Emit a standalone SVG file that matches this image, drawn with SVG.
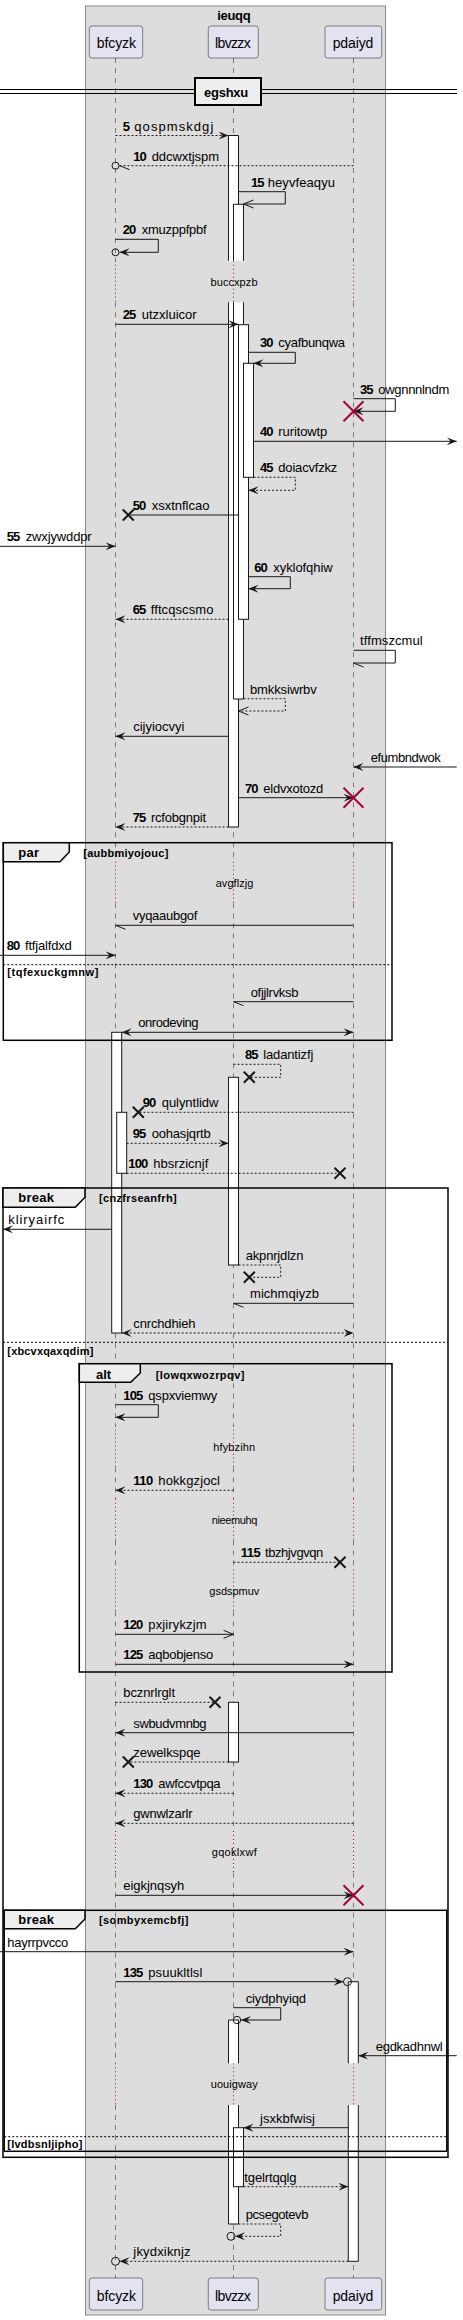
<svg xmlns="http://www.w3.org/2000/svg" width="463" height="2320" viewBox="0 0 463 2320">
<style>
.t{font-family:"Liberation Sans",Arial,sans-serif;font-size:13px;fill:#000}
.b{font-weight:bold}
.c{font-size:11px;font-weight:bold}
.dt{font-size:11px}
.pt{font-size:14px}
.part{fill:#E2E2F0;stroke:#181818;stroke-width:0.5}
.ll{stroke:#181818;stroke-width:0.5;stroke-dasharray:5,5;fill:none}
.dl{stroke:#A80036;stroke-width:1;stroke-dasharray:1,3;fill:none}
.act{fill:#fff;stroke:#181818;stroke-width:1}
.m{fill:none;stroke:#181818;stroke-width:1}
.d{stroke-dasharray:2,2}
.xr{stroke:#A80036;stroke-width:2;fill:none}
.xb{stroke:#181818;stroke-width:2;fill:none}
.ci{fill:none;stroke:#181818;stroke-width:1}
.fr{fill:none;stroke:#000;stroke-width:1.5}
.tab{fill:#EEEEEE;stroke:#000;stroke-width:1.5}
.sep{stroke:#000;stroke-width:1;stroke-dasharray:2,2}
</style>
<defs>
<marker id="af" viewBox="0 0 10 8" refX="10" refY="4" markerWidth="10" markerHeight="8" markerUnits="userSpaceOnUse" orient="auto-start-reverse"><path d="M0,0 L10,4 L0,8 L4,4 Z" fill="#181818"/></marker>
<marker id="ao" viewBox="-1 -1 12 10" refX="10" refY="4" markerWidth="12" markerHeight="10" markerUnits="userSpaceOnUse" orient="auto"><path d="M0,0 L10,4 L0,8" fill="none" stroke="#181818" stroke-width="1"/></marker>
<marker id="ahf" viewBox="-1 -1 12 10" refX="10" refY="4" markerWidth="12" markerHeight="10" markerUnits="userSpaceOnUse" orient="auto"><path d="M0,0 L10,4" fill="none" stroke="#181818" stroke-width="1"/></marker>
</defs>

<g id="box-ieuqq">
<rect x="85.5" y="6" width="300" height="2309" fill="#DDDDDD" stroke="#888888" stroke-width="1"/>
<text class="t b" x="234" y="19.5" text-anchor="middle" textLength="33.3">ieuqq</text>
</g>

<g id="lifelines">
<path class="ll" d="M115.5,58V260.7M115.5,302.3V861.7M115.5,903.3V1425.7M115.5,1467.3V1498.7M115.5,1540.3V1569.7M115.5,1611.3V1831M115.5,1872.6V2063.3M115.5,2105V2278"/>
<path class="ll" d="M233.5,58V260.7M233.5,302.3V861.7M233.5,903.3V1425.7M233.5,1467.3V1498.7M233.5,1540.3V1569.7M233.5,1611.3V1831M233.5,1872.6V2063.3M233.5,2105V2278"/>
<path class="ll" d="M353.5,58V260.7M353.5,302.3V861.7M353.5,903.3V1425.7M353.5,1467.3V1498.7M353.5,1540.3V1569.7M353.5,1611.3V1831M353.5,1872.6V2063.3M353.5,2105V2278"/>
</g>

<g id="delays">
<path class="dl" d="M115.5,260.7V302.3M233.5,260.7V302.3M353.5,260.7V302.3"/>
<text class="t dt" x="234" y="285.7" text-anchor="middle" textLength="47">buccxpzb</text>
<path class="dl" d="M115.5,861.7V903.3M233.5,861.7V903.3M353.5,861.7V903.3"/>
<text class="t dt" x="234.5" y="886.7" text-anchor="middle" textLength="37.7">avgflzjg</text>
<path class="dl" d="M115.5,1425.7V1467.3M233.5,1425.7V1467.3M353.5,1425.7V1467.3"/>
<text class="t dt" x="234.2" y="1450.7" text-anchor="middle" textLength="41.7">hfybzihn</text>
<path class="dl" d="M115.5,1498.7V1540.3M233.5,1498.7V1540.3M353.5,1498.7V1540.3"/>
<text class="t dt" x="234.5" y="1523.7" text-anchor="middle" textLength="45.7">nieemuhq</text>
<path class="dl" d="M115.5,1569.7V1611.3M233.5,1569.7V1611.3M353.5,1569.7V1611.3"/>
<text class="t dt" x="234.3" y="1594.7" text-anchor="middle" textLength="50">gsdspmuv</text>
<path class="dl" d="M115.5,1831V1872.6M233.5,1831V1872.6M353.5,1831V1872.6"/>
<text class="t dt" x="234.2" y="1856" text-anchor="middle" textLength="45">gqoklxwf</text>
<path class="dl" d="M115.5,2063.3V2105M233.5,2063.3V2105M353.5,2063.3V2105"/>
<text class="t dt" x="234.2" y="2088.3" text-anchor="middle" textLength="47">uouigway</text>
</g>

<g id="p-bfcyzk">
<rect class="part" x="89.3" y="26" width="53.4" height="32" rx="2.5"/>
<text class="t pt" x="96.7" y="48.3" textLength="39.3">bfcyzk</text>
<rect class="part" x="89.3" y="2278" width="53.4" height="32" rx="2.5"/>
<text class="t pt" x="96.7" y="2300.7" textLength="39.3">bfcyzk</text>
</g>
<g id="p-lbvzzx">
<rect class="part" x="208.3" y="26" width="50" height="32" rx="2.5"/>
<text class="t pt" x="215" y="48.3" textLength="35.7">lbvzzx</text>
<rect class="part" x="208.3" y="2278" width="50" height="32" rx="2.5"/>
<text class="t pt" x="215" y="2300.7" textLength="35.7">lbvzzx</text>
</g>
<g id="p-pdaiyd">
<rect class="part" x="325" y="26" width="56.7" height="32" rx="2.5"/>
<text class="t pt" x="332.7" y="48.3" textLength="40.7">pdaiyd</text>
<rect class="part" x="325" y="2278" width="56.7" height="32" rx="2.5"/>
<text class="t pt" x="332.7" y="2300.7" textLength="40.7">pdaiyd</text>
</g>

<g id="activations">
<path class="act" d="M228.5,260.7V135.5H238.5V260.7"/>
<path class="act" d="M228.5,302.3V827H238.5V302.3"/>
<path class="act" d="M233.5,260.7V204.3H243.5V260.7"/>
<path class="act" d="M233.5,302.3V699H243.5V302.3"/>
<rect class="act" x="238.5" y="324.7" width="10" height="294.6"/>
<rect class="act" x="243.5" y="363.3" width="10" height="114"/>
<rect class="act" x="111.7" y="1032.3" width="10" height="300.7"/>
<rect class="act" x="228.5" y="1077.3" width="10" height="187.7"/>
<rect class="act" x="116.7" y="1112.3" width="10" height="61"/>
<rect class="act" x="228.5" y="1702.3" width="10" height="59.7"/>
<path class="act" d="M348.3,2063.3V1981.7H358.3V2063.3"/>
<path class="act" d="M348.3,2105V2261.3H358.3V2105"/>
<path class="act" d="M228.5,2063.3V2020H238.5V2063.3"/>
<path class="act" d="M228.5,2105V2224H238.5V2105"/>
<rect class="act" x="233.5" y="2127.7" width="10" height="59"/>
</g>

<g id="divider-egshxu">
<path d="M0,89.5H457M0,93.5H457" stroke="#000" stroke-width="1"/>
<rect x="195" y="78" width="66" height="27" fill="#EEEEEE" stroke="#000" stroke-width="2"/>
<text class="t b" x="204" y="96.5" textLength="44.3">egshxu</text>
</g>

<g id="frame-par">
<rect class="fr" x="3.3" y="842.7" width="388.7" height="197.6"/>
<polygon class="tab" points="3.3,842.7 69.3,842.7 69.3,852 60,861.7 3.3,861.7"/>
<text class="t b" x="18.3" y="857" textLength="20.7">par</text>
<text class="t c" x="83.3" y="856.5" textLength="85">[aubbmiyojouc]</text>
<line class="sep" x1="3.3" y1="964.7" x2="392" y2="964.7"/>
<text class="t c" x="7.3" y="976" textLength="91">[tqfexuckgmnw]</text>
</g>

<g id="frame-break1">
<rect class="fr" x="3" y="1188" width="445" height="969.3"/>
<polygon class="tab" points="3,1188 85,1188 85,1197.3 75.3,1207.3 3,1207.3"/>
<text class="t b" x="18.3" y="1202.3" textLength="35.7">break</text>
<text class="t c" x="99" y="1202" textLength="77.7">[cnzfrseanfrh]</text>
<line class="sep" x1="3" y1="1342.3" x2="448" y2="1342.3"/>
<text class="t c" x="7.3" y="1355" textLength="86">[xbcvxqaxqdim]</text>
</g>

<g id="frame-alt">
<rect class="fr" x="79.3" y="1363.7" width="312.7" height="308.3"/>
<polygon class="tab" points="79.3,1363.7 140.3,1363.7 140.3,1373 130.7,1382.3 79.3,1382.3"/>
<text class="t b" x="96" y="1378.7" textLength="15">alt</text>
<text class="t c" x="155.7" y="1378.5" textLength="88.7">[lowqxwozrpqv]</text>
</g>

<g id="frame-break2">
<rect class="fr" x="4.2" y="1910.3" width="442.6" height="241"/>
<polygon class="tab" points="4.2,1910.3 85,1910.3 85,1919 75.3,1928.7 4.2,1928.7"/>
<text class="t b" x="18.3" y="1924.3" textLength="35.7">break</text>
<text class="t c" x="99" y="1924" textLength="89.3">[sombyxemcbfj]</text>
<line class="sep" x1="4.2" y1="2136.7" x2="446.8" y2="2136.7"/>
<text class="t c" x="7.3" y="2147.5" textLength="75">[lvdbsnljipho]</text>
</g>

<g id="connectors">
<path class="m d" d="M115.5,135.5H228.5" marker-end="url(#af)"/>
<text class="t b" x="122.7" y="130.5" textLength="7">5</text><text class="t" x="134.3" y="130.5" textLength="79">qospmskdgj</text>

<path class="m d" d="M353.5,165.7H119.5" marker-end="url(#ahf)"/>
<circle class="ci" cx="115.5" cy="165.7" r="3.5"/>
<text class="t b" x="133.3" y="160.5" textLength="13.5">10</text><text class="t" x="151.7" y="160.5" textLength="67.3">ddcwxtjspm</text>

<path class="m" d="M238.5,191.7H285.3V204H243.5" marker-end="url(#ao)"/>
<text class="t b" x="251" y="186.7" textLength="13.5">15</text><text class="t" x="267.7" y="186.7" textLength="67.3">heyvfeaqyu</text>

<path class="m" d="M115.5,239.3H158.3V252.3H119.5" marker-end="url(#af)"/>
<circle class="ci" cx="115.5" cy="252.3" r="3.5"/>
<text class="t b" x="122.7" y="234.3" textLength="13.5">20</text><text class="t" x="141.7" y="234.3" textLength="65">xmuzppfpbf</text>

<path class="m" d="M115.5,324.3H238.5" marker-end="url(#af)"/>
<text class="t b" x="122.7" y="319.3" textLength="13.5">25</text><text class="t" x="141.7" y="319.3" textLength="55">utzxluicor</text>

<path class="m" d="M248.5,352.3H295.3V363.3H253.5" marker-end="url(#af)"/>
<text class="t b" x="260" y="347.3" textLength="13.5">30</text><text class="t" x="278.3" y="347.3" textLength="66.7">cyafbunqwa</text>

<path class="m" d="M353.5,398.7H395.3V411.3H353.5" marker-end="url(#af)"/>
<path class="xr" d="M343.5,401.3L363.5,421.3M363.5,401.3L343.5,421.3"/>
<text class="t b" x="360" y="393.7" textLength="13.5">35</text><text class="t" x="378.3" y="393.7" textLength="71">owgnnnlndm</text>

<path class="m" d="M253.5,441.3H456.7" marker-end="url(#af)"/>
<text class="t b" x="260" y="436.3" textLength="13.5">40</text><text class="t" x="278.3" y="436.3" textLength="49">ruritowtp</text>

<path class="m d" d="M253.5,477.3H295.3V490.3H248.5" marker-end="url(#af)"/>
<text class="t b" x="260" y="472.3" textLength="13.5">45</text><text class="t" x="278.3" y="472.3" textLength="59">doiacvfzkz</text>

<path class="m" d="M238.5,515H128.3"/>
<path class="xb" d="M122.8,509.5L133.8,520.5M133.8,509.5L122.8,520.5"/>
<text class="t b" x="132.7" y="510" textLength="13.5">50</text><text class="t" x="151.7" y="510" textLength="57.7">xsxtnflcao</text>

<path class="m" d="M0,546.3H115.5" marker-end="url(#af)"/>
<text class="t b" x="6.7" y="541.3" textLength="13.5">55</text><text class="t" x="25.7" y="541.3" textLength="66">zwxjywddpr</text>

<path class="m" d="M248.5,576.7H290.3V588.7H248.5" marker-end="url(#af)"/>
<text class="t b" x="254.3" y="571.7" textLength="13.5">60</text><text class="t" x="273.3" y="571.7" textLength="59.3">xyklofqhiw</text>

<path class="m d" d="M228.5,619.3H115.5" marker-end="url(#af)"/>
<text class="t b" x="132.7" y="614.3" textLength="13.5">65</text><text class="t" x="150.7" y="614.3" textLength="62.7">fftcqscsmo</text>

<path class="m" d="M353.5,650.3H395.3V663H353.5" marker-end="url(#ahf)"/>
<text class="t" x="360" y="645.3" textLength="62.7">tffmszcmul</text>

<path class="m d" d="M243.5,698.7H285.3V711H238.5" marker-end="url(#ao)"/>
<text class="t" x="250" y="693.7" textLength="66.7">bmkksiwrbv</text>

<path class="m" d="M228.5,736.3H115.5" marker-end="url(#af)"/>
<text class="t" x="133.3" y="731.3" textLength="51">cijyiocvyi</text>

<path class="m" d="M456.7,767H353.5" marker-end="url(#af)"/>
<text class="t" x="370.7" y="762" textLength="70">efumbndwok</text>

<path class="m" d="M238.5,797.7H353.5" marker-end="url(#af)"/>
<path class="xr" d="M343.5,787.7L363.5,807.7M363.5,787.7L343.5,807.7"/>
<text class="t b" x="245" y="792.7" textLength="13.5">70</text><text class="t" x="263.3" y="792.7" textLength="60">eldvxotozd</text>

<path class="m d" d="M228.5,827H115.5" marker-end="url(#af)"/>
<text class="t b" x="132.7" y="822" textLength="13.5">75</text><text class="t" x="151" y="822" textLength="55">rcfobgnpit</text>

<path class="m" d="M353.5,925.3H115.5" marker-end="url(#ahf)"/>
<text class="t" x="132.7" y="920.3" textLength="64.7">vyqaaubgof</text>

<path class="m" d="M0,955.3H115.5" marker-end="url(#af)"/>
<text class="t b" x="6.7" y="950.3" textLength="13.5">80</text><text class="t" x="25" y="950.3" textLength="46.7">ftfjalfdxd</text>

<path class="m" d="M353.5,1001.7H233.5" marker-end="url(#ahf)"/>
<text class="t" x="250.7" y="996.7" textLength="47.7">ofjjlrvksb</text>

<path class="m" d="M121.7,1032.3H353.5" marker-start="url(#af)" marker-end="url(#af)"/>
<text class="t" x="138.3" y="1027.3" textLength="60.3">onrodeving</text>

<path class="m d" d="M233.5,1064.3H280.7V1077.3H249.3"/>
<path class="xb" d="M243.8,1071.8L254.8,1082.8M254.8,1071.8L243.8,1082.8"/>
<text class="t b" x="245" y="1059.3" textLength="13.5">85</text><text class="t" x="263.3" y="1059.3" textLength="50">ladantizfj</text>

<path class="m d" d="M353.5,1112.3H138.3"/>
<path class="xb" d="M132.8,1106.8L143.8,1117.8M143.8,1106.8L132.8,1117.8"/>
<text class="t b" x="142.7" y="1107.3" textLength="13.5">90</text><text class="t" x="161.7" y="1107.3" textLength="56.7">qulyntlidw</text>

<path class="m d" d="M126.7,1143.3H228.5" marker-end="url(#af)"/>
<text class="t b" x="132.7" y="1138.3" textLength="13.5">95</text><text class="t" x="151.7" y="1138.3" textLength="59">oohasjqrtb</text>

<path class="m d" d="M126.7,1173.3H340"/>
<path class="xb" d="M334.5,1167.8L345.5,1178.8M345.5,1167.8L334.5,1178.8"/>
<text class="t b" x="128.3" y="1168.3" textLength="20">100</text><text class="t" x="153.3" y="1168.3" textLength="55">hbsrzicnjf</text>

<path class="m" d="M111.7,1229.3H3" marker-end="url(#af)"/>
<text class="t" x="8.3" y="1224.3" textLength="56">kliryairfc</text>

<path class="m d" d="M238.5,1265H280.7V1277.3H249.3"/>
<path class="xb" d="M243.8,1271.8L254.8,1282.8M254.8,1271.8L243.8,1282.8"/>
<text class="t" x="245.7" y="1260" textLength="57.7">akpnrjdlzn</text>

<path class="m" d="M353.5,1303.3H233.5" marker-end="url(#ahf)"/>
<text class="t" x="250" y="1298.3" textLength="69">michmqiyzb</text>

<path class="m d" d="M121.7,1333H353.5" marker-start="url(#af)" marker-end="url(#af)"/>
<text class="t" x="133.3" y="1328" textLength="62.3">cnrchdhieh</text>

<path class="m" d="M115.5,1404.7H158.3V1417.3H115.5" marker-end="url(#af)"/>
<text class="t b" x="123.3" y="1399.7" textLength="20">105</text><text class="t" x="148.3" y="1399.7" textLength="69">qspxviemwy</text>

<path class="m d" d="M233.5,1490.3H115.5" marker-end="url(#af)"/>
<text class="t b" x="133.3" y="1485.3" textLength="20">110</text><text class="t" x="158.3" y="1485.3" textLength="61.7">hokkgzjocl</text>

<path class="m d" d="M233.5,1562.3H340"/>
<path class="xb" d="M334.5,1556.8L345.5,1567.8M345.5,1556.8L334.5,1567.8"/>
<text class="t b" x="240.7" y="1557.3" textLength="20">115</text><text class="t" x="265" y="1557.3" textLength="58.3">tbzhjvgvqn</text>

<path class="m" d="M115.5,1634.3H233.5" marker-end="url(#ao)"/>
<text class="t b" x="123.3" y="1629.3" textLength="20">120</text><text class="t" x="148.3" y="1629.3" textLength="58.3">pxjirykzjm</text>

<path class="m" d="M115.5,1664.3H353.5" marker-end="url(#af)"/>
<text class="t b" x="123.3" y="1659.3" textLength="20">125</text><text class="t" x="148.3" y="1659.3" textLength="65">aqbobjenso</text>

<path class="m d" d="M115.5,1702.3H215"/>
<path class="xb" d="M209.5,1696.8L220.5,1707.8M220.5,1696.8L209.5,1707.8"/>
<text class="t" x="123.3" y="1697.3" textLength="51.7">bcznrlrglt</text>

<path class="m" d="M353.5,1732.7H115.5" marker-end="url(#af)"/>
<text class="t" x="133.3" y="1727.7" textLength="73.3">swbudvmnbg</text>

<path class="m d" d="M228.5,1762H128.3"/>
<path class="xb" d="M122.8,1756.5L133.8,1767.5M133.8,1756.5L122.8,1767.5"/>
<text class="t" x="133.3" y="1757" textLength="67.3">zewelkspqe</text>

<path class="m d" d="M233.5,1793.3H115.5" marker-end="url(#af)"/>
<text class="t b" x="133.3" y="1788.3" textLength="20">130</text><text class="t" x="158.3" y="1788.3" textLength="62.3">awfccvtpqa</text>

<path class="m d" d="M353.5,1823.3H115.5" marker-end="url(#af)"/>
<text class="t" x="133.3" y="1818.3" textLength="59.3">gwnwlzarlr</text>

<path class="m" d="M115.5,1895.3H353.5" marker-end="url(#af)"/>
<path class="xr" d="M343.5,1885.3L363.5,1905.3M363.5,1885.3L343.5,1905.3"/>
<text class="t" x="123.3" y="1890.3" textLength="61">eigkjnqsyh</text>

<path class="m" d="M0,1951.7H353.5" marker-end="url(#af)"/>
<text class="t" x="7.3" y="1946.7" textLength="61">hayrrpvcco</text>

<path class="m" d="M115.5,1981.7H343.5" marker-end="url(#af)"/>
<circle class="ci" cx="347.5" cy="1981.7" r="4"/>
<text class="t b" x="123.3" y="1976.7" textLength="20">135</text><text class="t" x="148.3" y="1976.7" textLength="54">psuukltlsl</text>

<path class="m" d="M233.5,2007.7H280.7V2020H241" marker-end="url(#af)"/>
<circle class="ci" cx="237" cy="2020" r="3.7"/>
<text class="t" x="245.7" y="2002.7" textLength="60.3">ciydphyiqd</text>

<path class="m" d="M456.7,2055.7H358.3" marker-end="url(#af)"/>
<text class="t" x="375.7" y="2050.7" textLength="67">egdkadhnwl</text>

<path class="m" d="M348.3,2127.7H243.5" marker-end="url(#af)"/>
<text class="t" x="260" y="2122.7" textLength="55">jsxkbfwisj</text>

<path class="m d" d="M243.5,2186.7H348.3" marker-end="url(#af)"/>
<text class="t" x="244.3" y="2181.7" textLength="52.3">tgelrtqqlg</text>

<path class="m d" d="M238.5,2224H280.7V2236.3H235" marker-end="url(#af)"/>
<circle class="ci" cx="231" cy="2236.3" r="4"/>
<text class="t" x="245.7" y="2219" textLength="62.7">pcsegotevb</text>

<path class="m d" d="M348.3,2261.3H119.5" marker-end="url(#af)"/>
<circle class="ci" cx="115.5" cy="2261.3" r="4"/>
<text class="t" x="133.3" y="2256.3" textLength="57.3">jkydxiknjz</text>
</g>
</svg>
